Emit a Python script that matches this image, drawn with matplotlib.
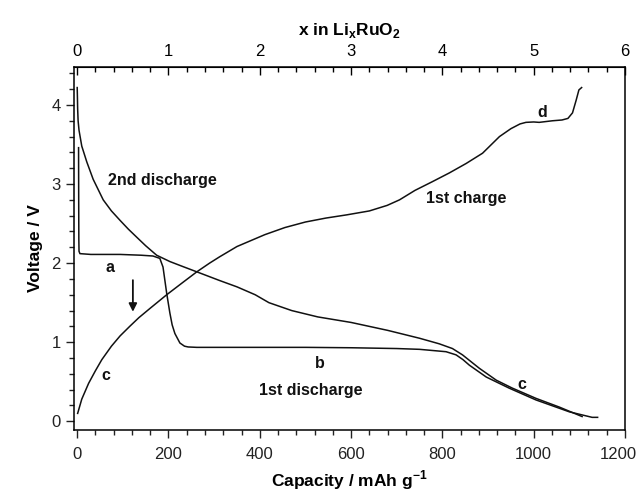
import numpy as np
import matplotlib.pyplot as plt
from matplotlib.ticker import MultipleLocator, FixedLocator
from matplotlib.transforms import ScaledTranslation

plt.rcParams['font.family'] = ['Liberation Sans', 'DejaVu Sans']
plt.rcParams['mathtext.fontset'] = 'custom'
plt.rcParams['mathtext.rm'] = 'Liberation Sans:bold'
plt.rcParams['mathtext.bf'] = 'Liberation Sans:bold'

# 1st discharge (capacity mAh/g, voltage V)
dis1_cap = [3, 3.3, 3.6, 4, 6, 30, 94, 140, 166, 181, 188, 196, 203, 208, 214, 225, 235, 243, 262,
            400, 500, 600, 700, 750, 808, 830, 845, 859, 896, 946, 1005, 1078, 1128, 1140]
dis1_v = [3.46, 2.8, 2.3, 2.15, 2.12, 2.11, 2.11, 2.10, 2.09, 2.06, 1.95, 1.62, 1.37, 1.22, 1.11, 0.99, 0.95, 0.94, 0.935,
          0.935, 0.935, 0.93, 0.92, 0.91, 0.88, 0.84, 0.78, 0.71, 0.56, 0.42, 0.27, 0.12, 0.05, 0.05]

# 1st charge
chg_cap = [1, 10, 25, 40, 54, 75, 94, 115, 135, 160, 196, 230, 262, 290, 312, 350, 411, 455, 500, 545, 590,
           640, 679, 706, 740, 778, 815, 852, 888, 925, 950, 970, 983, 1000, 1012, 1041, 1062, 1075,
           1085, 1093, 1099, 1105]
chg_v = [0.1, 0.28, 0.48, 0.64, 0.78, 0.95, 1.08, 1.20, 1.31, 1.43, 1.60, 1.75, 1.89, 2.0, 2.08, 2.21, 2.36, 2.45,
         2.52, 2.57, 2.61, 2.66, 2.73, 2.8, 2.92, 3.03, 3.14, 3.26, 3.39, 3.6, 3.7, 3.76, 3.78, 3.785, 3.78, 3.8,
         3.81, 3.83, 3.9, 4.06, 4.19, 4.22]

# 2nd discharge
dis2_cap = [0, 0.5, 1, 2, 4, 10, 21, 35, 57, 75, 94, 112, 130, 150, 174, 203, 230, 262, 312, 350, 390, 420,
            470, 527, 600, 680, 750, 793, 822, 844, 881, 918, 953, 1005, 1056, 1106]
dis2_v = [4.22, 4.1, 3.95, 3.8, 3.68, 3.48, 3.28, 3.06, 2.80, 2.66, 2.54, 2.43, 2.33, 2.22, 2.10, 2.02, 1.96, 1.89,
          1.78, 1.70, 1.60, 1.50, 1.40, 1.32, 1.25, 1.15, 1.05, 0.98, 0.92, 0.84, 0.67, 0.52, 0.42, 0.29, 0.18, 0.06]

# top axis: x in LixRuO2
x_ticks = [0, 1, 2, 3, 4, 5, 6]

fig = plt.figure(figsize=(6.4, 4.93), dpi=100)
ax = fig.add_axes([74 / 640, 63 / 493, 551 / 640, 363 / 493])

for c, v in [(dis1_cap, dis1_v), (chg_cap, chg_v), (dis2_cap, dis2_v)]:
    ax.plot(c, v, color='#111111', lw=1.1)

ax.set_xlim(-7, 1200)
ax.set_ylim(-0.11, 4.48)
ax.xaxis.set_major_locator(MultipleLocator(200))
ax.xaxis.set_minor_locator(MultipleLocator(40))
ax.yaxis.set_major_locator(MultipleLocator(1))
ax.yaxis.set_minor_locator(MultipleLocator(0.2))
ax.tick_params(which='both', direction='out', labelsize=12, width=1, colors='#222222')
ax.tick_params(axis='x', pad=6)
ax.tick_params(which='major', length=6)
ax.tick_params(which='minor', length=3.5)
for s in ax.spines.values():
    s.set_linewidth(1.1)

ax.set_xlabel('Capacity / mAh g$^{-1}$', fontsize=12.5, fontweight='bold', labelpad=5)
ax.set_ylabel('Voltage / V', fontsize=12.5, fontweight='bold', labelpad=6)

top = ax.secondary_xaxis('top', functions=(lambda c: c / 200, lambda x: x * 200))
top.xaxis.set_major_locator(FixedLocator(x_ticks))
top.xaxis.set_minor_locator(FixedLocator(np.arange(0, 30) * 0.2))
top.tick_params(which='both', direction='in', labelsize=12, width=1, pad=6)
top.tick_params(which='major', length=6)
top.tick_params(which='minor', length=3.5)
top.set_xlabel('x in Li$_\\mathbf{x}$RuO$_\\mathbf{2}$', fontsize=12.5, fontweight='bold', labelpad=6)

kw = dict(fontsize=11.5, fontweight='bold', color='#111111')
ax.text(68, 3.05, '2nd discharge', va='center', ha='left', **kw)
ax.text(765, 2.82, '1st charge', va='center', ha='left', **kw)
ax.text(511, 0.39, '1st discharge', va='center', ha='center', **kw)
ax.text(72, 1.95, 'a', va='center', ha='center', **kw)
ax.text(532, 0.73, 'b', va='center', ha='center', **kw)
ax.text(63, 0.58, 'c', va='center', ha='center', **kw)
ax.text(975, 0.47, 'c', va='center', ha='center', **kw)
ax.text(1019, 3.91, 'd', va='center', ha='center', **kw)

ax.annotate('', xy=(122, 1.35), xytext=(122, 1.82),
            arrowprops=dict(arrowstyle='-|>', color='#111111', lw=1.3, mutation_scale=12))

# keep "1200" inside the picture, as in the original
fig.canvas.draw()
last = [t for t in ax.get_xticklabels() if t.get_text() == '1200']
for t in last:
    t.set_transform(t.get_transform() + ScaledTranslation(-7 / 100, 0, fig.dpi_scale_trans))

fig.savefig('out.png', dpi=100)
